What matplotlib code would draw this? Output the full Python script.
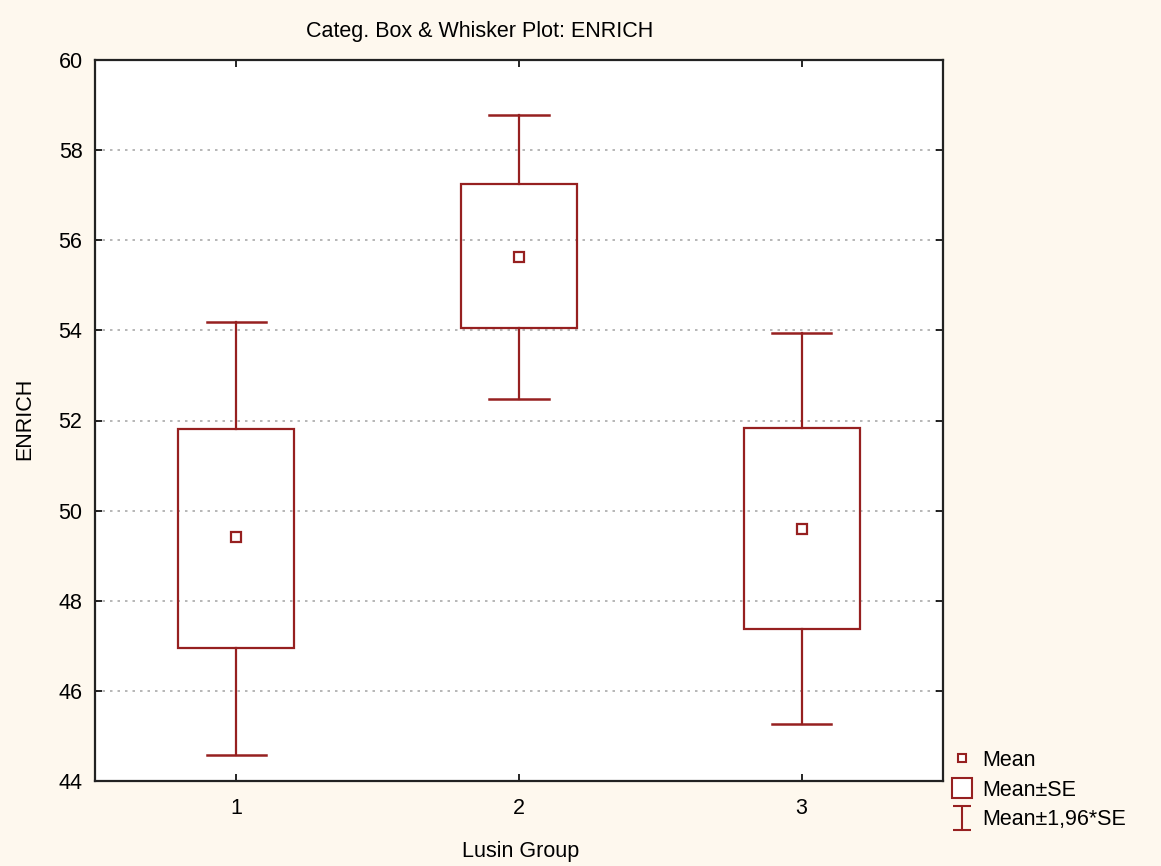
import matplotlib
matplotlib.use("Agg")
import matplotlib.pyplot as plt
from matplotlib.patches import Rectangle
from matplotlib.lines import Line2D
from matplotlib.path import Path

plt.rcParams['font.family'] = ['Liberation Sans', 'DejaVu Sans']

groups = [1, 2, 3]
means = [49.41, 55.63, 49.59]
se_low = [46.95, 54.05, 47.37]
se_high = [51.81, 57.25, 51.83]
ci_low = [44.58, 52.48, 45.26]
ci_high = [54.19, 58.78, 53.94]
yticks = [44, 46, 48, 50, 52, 54, 56, 58, 60]

color = "#962020"
bg = "#FEF8EE"
fs = 15.5

W, H = 1161, 866
fig = plt.figure(figsize=(W / 100, H / 100), dpi=100, facecolor=bg)
ax = fig.add_axes([95 / W, 1 - 781 / H, (943 - 95) / W, (781 - 60) / H])
ax.set_facecolor("white")

box_w = 0.41
cap_w = 0.21
for g, m, sl, sh, cl, ch in zip(groups, means, se_low, se_high, ci_low, ci_high):
    ax.add_patch(Rectangle((g - box_w / 2, sl), box_w, sh - sl, fill=False,
                           edgecolor=color, lw=1.6, zorder=3))
    ax.plot([g, g], [sh, ch], color=color, lw=1.6, zorder=3)
    ax.plot([g, g], [cl, sl], color=color, lw=1.6, zorder=3)
    ax.plot([g - cap_w / 2, g + cap_w / 2], [ch, ch], color=color, lw=1.8, zorder=3)
    ax.plot([g - cap_w / 2, g + cap_w / 2], [cl, cl], color=color, lw=1.8, zorder=3)
    ax.plot([g], [m], marker="s", ms=7, mfc="white", mec=color, mew=1.6, zorder=4)

ax.set_xlim(0.5, 3.5)
ax.set_ylim(44, 60)
ax.set_xticks(groups)
ax.set_xticklabels([str(g) for g in groups])
ax.set_yticks(yticks)
ax.set_yticklabels([str(t) for t in yticks])
ax.tick_params(direction="in", top=True, right=True, length=5, width=1.2,
               labelsize=fs, colors="black")
ax.tick_params(axis="y", pad=9)
ax.tick_params(axis="x", pad=12)
for s in ax.spines.values():
    s.set_linewidth(1.6)
    s.set_color("#222222")
ax.yaxis.grid(True, linestyle=(0, (1.5, 3)), color="#aaaaaa", lw=1.2)
ax.set_axisbelow(True)

fig.text(480 / W, 1 - 32 / H, "Categ. Box & Whisker Plot: ENRICH", ha="center",
         va="center", fontsize=fs)
fig.text(521 / W, 1 - 851 / H, "Lusin Group", ha="center", va="center", fontsize=fs)
fig.text(25 / W, 1 - 419 / H, "ENRICH", ha="center", va="center", fontsize=fs,
         rotation=90)

# legend
ibeam = Path([(-0.4, 0.5), (0.4, 0.5), (0, 0.5), (0, -0.5), (-0.4, -0.5), (0.4, -0.5)],
             [Path.MOVETO, Path.LINETO, Path.MOVETO, Path.LINETO, Path.MOVETO, Path.LINETO])
handles = [
    Line2D([], [], ls="none", marker="s", ms=6, mfc="white", mec=color, mew=1.5),
    Line2D([], [], ls="none", marker="s", ms=15, mfc="white", mec=color, mew=1.5),
    Line2D([], [], ls="none", marker=ibeam, ms=17, mfc="none", mec=color, mew=1.5),
]
labels = ["Mean", "Mean\u00b1SE", "Mean\u00b11,96*SE"]
leg = fig.legend(handles, labels, loc="upper left",
                 bbox_to_anchor=(951 / W, 1 - 750 / H), frameon=False,
                 fontsize=fs, handlelength=1.0, handletextpad=0.45,
                 labelspacing=0.4, borderaxespad=0, borderpad=0)

fig.savefig("out.png", dpi=100, facecolor=bg)
